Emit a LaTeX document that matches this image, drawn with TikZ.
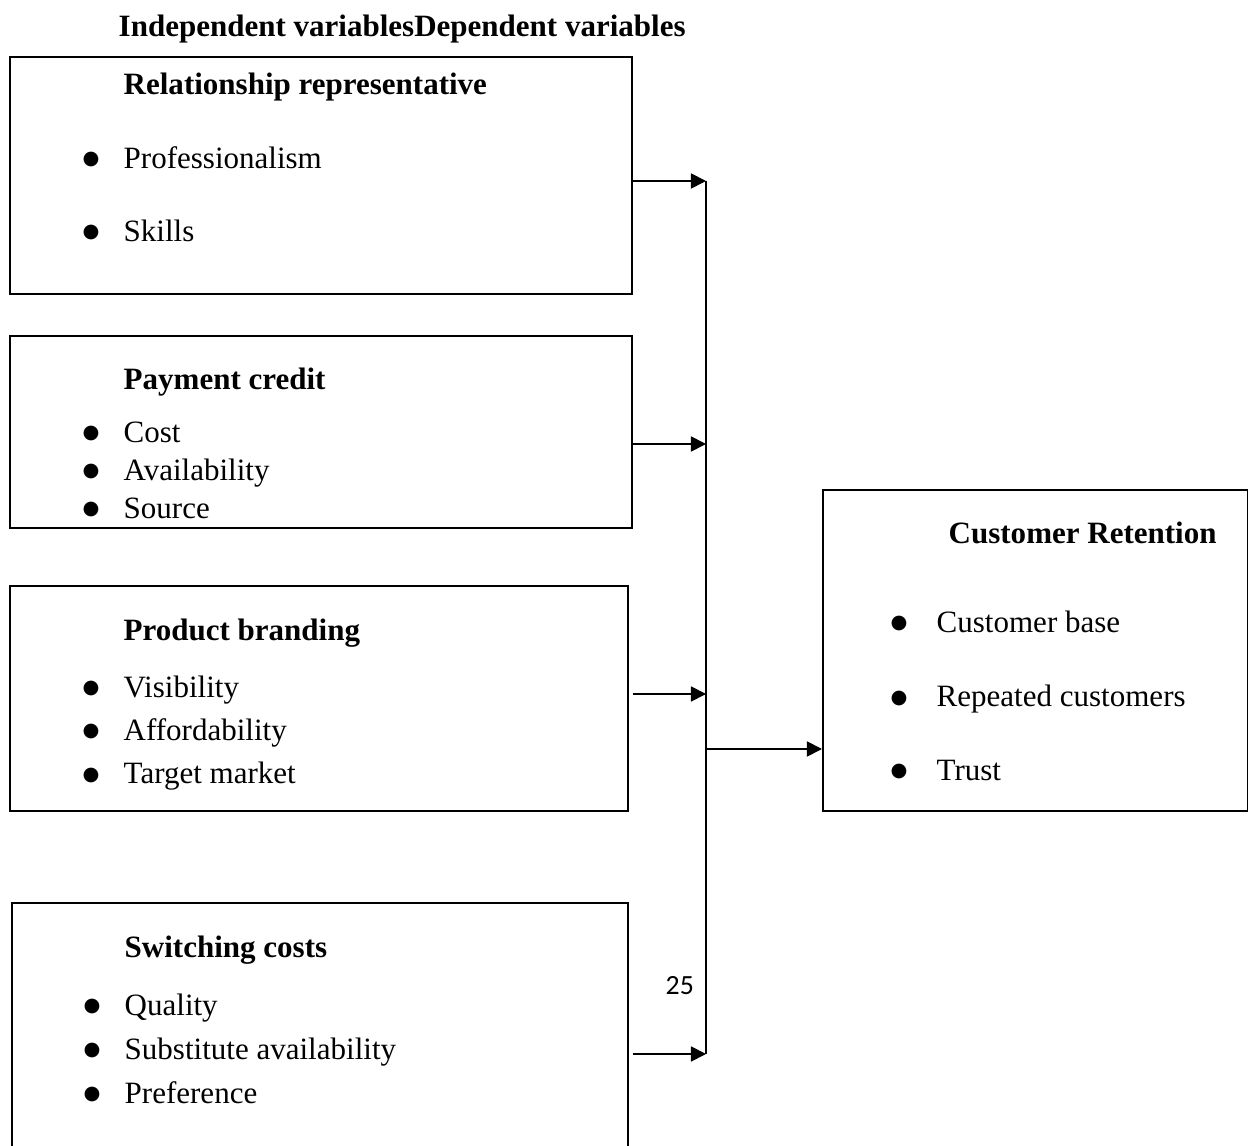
\documentclass[tikz,border=0pt]{standalone}
\usepackage{fontspec}
\setmainfont{Liberation Serif}
\newfontfamily\numfont{Carlito}
\newfontfamily\symfont{DejaVu Sans}
\usetikzlibrary{arrows.meta}
\tikzset{
  box/.style={draw=black, line width=0.5pt, rectangle, inner sep=0pt, anchor=north west},
  txt/.style={inner sep=0pt, anchor=base west, font=\fontsize{8.82pt}{10pt}\selectfont},
  ttl/.style={inner sep=0pt, anchor=base west, font=\fontsize{8.82pt}{10pt}\selectfont\bfseries},
  bul/.style={inner sep=0pt, anchor=center, yshift=0.09cm, font=\symfont\fontsize{5.5pt}{6pt}\selectfont},
  conn/.style={line width=0.5pt},
  arr/.style={line width=0.5pt, -{Triangle[length=0.15cm, width=0.15cm]}},
}
\begin{document}
\begin{tikzpicture}[x=0.01cm, y=-0.01cm]
\useasboundingbox (0,0) rectangle (1248,1146);
\clip (0,0) rectangle (1248,1146);

% header
\node[ttl] (hdr) at (118,37) {Independent variablesDependent variables};

% boxes
\node[box, minimum width=6.22cm, minimum height=2.37cm] (b1) at (9,56) {};
\node[box, minimum width=6.22cm, minimum height=1.92cm] (b2) at (9,335) {};
\node[box, minimum width=6.18cm, minimum height=2.25cm] (b3) at (9,585) {};
\node[box, minimum width=6.16cm, minimum height=2.60cm] (b4) at (11,902) {};
\node[box, minimum width=4.25cm, minimum height=3.21cm] (b5) at (822,489) {};

% box 1
\node[ttl] (t1) at (123,95) {Relationship representative};
\node[bul] (b1a) at (91,169) {●};
\node[txt] (i1a) at (123,169) {Professionalism};
\node[bul] (b1b) at (91,242) {●};
\node[txt] (i1b) at (123,242) {Skills};

% box 2
\node[ttl] (t2) at (123,390) {Payment credit};
\node[bul] (b2a) at (91,443) {●};
\node[txt] (i2a) at (123,443) {Cost};
\node[bul] (b2b) at (91,481) {●};
\node[txt] (i2b) at (123,481) {Availability};
\node[bul] (b2c) at (91,519) {●};
\node[txt] (i2c) at (123,519) {Source};

% box 3
\node[ttl] (t3) at (123,640) {Product branding};
\node[bul] (b3a) at (91,697) {●};
\node[txt] (i3a) at (123,697) {Visibility};
\node[bul] (b3b) at (91,741) {●};
\node[txt] (i3b) at (123,741) {Affordability};
\node[bul] (b3c) at (91,784) {●};
\node[txt] (i3c) at (123,784) {Target market};

% box 4
\node[ttl] (t4) at (124,957) {Switching costs};
\node[bul] (b4a) at (92,1015) {●};
\node[txt] (i4a) at (124,1015) {Quality};
\node[bul] (b4b) at (92,1059) {●};
\node[txt] (i4b) at (124,1059) {Substitute availability};
\node[bul] (b4c) at (92,1103) {●};
\node[txt] (i4c) at (124,1103) {Preference};

% box 5
\node[ttl] (t5) at (948,544) {Customer Retention};
\node[bul] (b5a) at (899,633) {●};
\node[txt] (i5a) at (936,633) {Customer base};
\node[bul] (b5b) at (899,707) {●};
\node[txt] (i5b) at (936,707) {Repeated customers};
\node[bul] (b5c) at (899,781) {●};
\node[txt] (i5c) at (936,781) {Trust};

% page number
\node[inner sep=0pt, anchor=base west, font=\numfont\fontsize{7.9pt}{9pt}\selectfont] (pg) at (665,994) {25};

% junction coordinates
\coordinate (j1) at (706,181);
\coordinate (j2) at (706,444);
\coordinate (j3) at (706,694);
\coordinate (j4) at (706,1054);
\coordinate (jm) at (706,749);

% connectors
\draw[conn] (j1) -- (j4);
\draw[arr] (b1.east |- j1) -- (j1);
\draw[arr] (b2.east |- j2) -- (j2);
\draw[arr] ([xshift=0.04cm]b3.east |- j3) -- (j3);
\draw[arr] ([xshift=0.04cm]b4.east |- j4) -- (j4);
\draw[arr] (jm) -- (b5.west |- jm);
\end{tikzpicture}
\end{document}
